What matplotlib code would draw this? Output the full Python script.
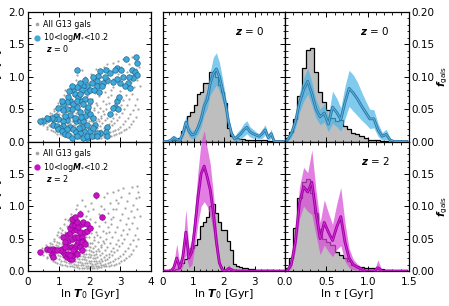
import numpy as np
import matplotlib
matplotlib.use('Agg')
import matplotlib.pyplot as plt
from matplotlib.ticker import MultipleLocator
from matplotlib.lines import Line2D

plt.rcParams['font.family'] = ['DejaVu Sans']
plt.rcParams['mathtext.fontset'] = 'dejavusans'

# ---------------- data ----------------
T0_edges = np.linspace(0, 4, 41)
tau_edges = np.linspace(0, 1.5, 31)

gray_T0_z0 = [0, 0, 0, 0.002, 0.003, 0.006, 0.016, 0.022, 0.04, 0.046, 0.056, 0.074, 0.077, 0.09, 0.09,
              0.107, 0.107, 0.1, 0.088, 0.077, 0.06, 0.021, 0.008, 0.006, 0.005, 0.004, 0.004, 0.003,
              0.003, 0.003, 0.002, 0.002, 0.002, 0.002, 0.001, 0.001, 0, 0, 0, 0]
blue_T0_z0 = [0, 0, 0.002, 0.006, 0.003, 0.002, 0.012, 0.03, 0.016, 0.01, 0.012, 0.022, 0.035, 0.055,
              0.065, 0.09, 0.105, 0.112, 0.1, 0.08, 0.058, 0.03, 0.012, 0.004, 0.008, 0.012, 0.018,
              0.022, 0.015, 0.012, 0.01, 0.008, 0.012, 0.018, 0.006, 0.012, 0, 0, 0, 0]
blue_T0_z0_err = [0, 0, 0.002, 0.004, 0.003, 0.002, 0.006, 0.01, 0.008, 0.006, 0.007, 0.01, 0.012, 0.014,
                  0.014, 0.018, 0.025, 0.025, 0.022, 0.018, 0.012, 0.008, 0.005, 0.004, 0.007, 0.008,
                  0.01, 0.01, 0.008, 0.007, 0.005, 0.004, 0.007, 0.008, 0.005, 0.007, 0, 0, 0, 0]

gray_tau_z0 = [0.005, 0.014, 0.035, 0.07, 0.114, 0.142, 0.144, 0.108, 0.077, 0.061, 0.048, 0.037, 0.032,
               0.033, 0.024, 0.02, 0.013, 0.011, 0.008, 0.005, 0.003, 0.002, 0.002, 0.001, 0.001,
               0, 0, 0, 0, 0]
blue_tau_z0 = [0.002, 0.012, 0.03, 0.06, 0.08, 0.093, 0.074, 0.05, 0.038, 0.044, 0.027, 0.053, 0.045,
               0.034, 0.06, 0.082, 0.075, 0.066, 0.055, 0.045, 0.035, 0.035, 0.018, 0.008, 0.011, 0.002,
               0, 0, 0, 0]
blue_tau_z0_err = [0.002, 0.006, 0.01, 0.015, 0.018, 0.02, 0.018, 0.014, 0.012, 0.014, 0.012, 0.025,
                   0.022, 0.018, 0.025, 0.028, 0.028, 0.026, 0.022, 0.018, 0.015, 0.014, 0.01, 0.006,
                   0.008, 0.002, 0, 0, 0, 0]

gray_T0_z2 = [0, 0, 0, 0.001, 0.003, 0.008, 0.012, 0.018, 0.026, 0.036, 0.04, 0.05, 0.069, 0.075, 0.084,
              0.1, 0.103, 0.09, 0.076, 0.063, 0.063, 0.047, 0.032, 0.011, 0.007, 0.006, 0.005, 0.004,
              0.003, 0.003, 0.002, 0.002, 0.002, 0.002, 0.001, 0.001, 0, 0, 0, 0]
mag_T0_z2 = [0, 0, 0, 0.005, 0.02, 0.005, 0.022, 0.06, 0.02, 0.03, 0.07, 0.115, 0.15, 0.162, 0.145,
             0.125, 0.09, 0.045, 0.012, 0.002, 0, 0.004, 0.002, 0, 0, 0, 0, 0, 0, 0, 0, 0, 0, 0, 0,
             0, 0, 0, 0, 0]
mag_T0_z2_err = [0, 0, 0, 0.005, 0.022, 0.006, 0.015, 0.035, 0.015, 0.02, 0.03, 0.04, 0.05, 0.055,
                 0.045, 0.04, 0.03, 0.02, 0.008, 0.002, 0, 0.006, 0.002, 0, 0, 0, 0, 0, 0, 0, 0, 0,
                 0, 0, 0, 0, 0, 0, 0, 0]

gray_tau_z2 = [0.005, 0.02, 0.066, 0.113, 0.138, 0.142, 0.12, 0.09, 0.065, 0.05, 0.045, 0.04, 0.03,
               0.025, 0.02, 0.015, 0.01, 0.008, 0.006, 0.005, 0.004, 0.005, 0.004, 0.003, 0.002,
               0.001, 0, 0, 0, 0]
mag_tau_z2 = [0, 0.01, 0.045, 0.105, 0.13, 0.122, 0.137, 0.09, 0.05, 0.075, 0.06, 0.047, 0.068, 0.084,
              0.045, 0.02, 0.01, 0.006, 0.003, 0, 0, 0, 0.005, 0, 0, 0, 0, 0, 0, 0]
mag_tau_z2_err = [0, 0.006, 0.015, 0.025, 0.03, 0.03, 0.05, 0.035, 0.025, 0.035, 0.03, 0.025, 0.035,
                  0.045, 0.03, 0.015, 0.008, 0.005, 0.003, 0, 0, 0, 0.012, 0, 0, 0, 0, 0, 0, 0]

# scatter: (ln T0, ln tau)
gray_pts = [
    (0.36, 0.30), (0.40, 0.27), (0.44, 0.33), (0.49, 0.25), (0.53, 0.31), (0.47, 0.36),
    (0.61, 0.22), (0.58, 0.29), (0.54, 0.35), (0.60, 0.40), (0.63, 0.20), (0.68, 0.26), (0.65, 0.33),
    (0.70, 0.39), (0.74, 0.18), (0.71, 0.24), (0.77, 0.30), (0.75, 0.37), (0.72, 0.44),
    (0.80, 0.16), (0.85, 0.22), (0.81, 0.28), (0.86, 0.35), (0.78, 0.42), (0.83, 0.50),
    (0.87, 0.14), (0.92, 0.20), (0.89, 0.27), (0.94, 0.33), (0.90, 0.40), (0.86, 0.47), (0.93, 0.55),
    (0.95, 0.12), (1.00, 0.18), (0.97, 0.25), (1.02, 0.31), (0.98, 0.38), (0.94, 0.45), (1.01, 0.52),
    (0.99, 0.60), (1.04, 0.11), (1.08, 0.16), (1.05, 0.23), (1.10, 0.29), (1.06, 0.36), (1.02, 0.43),
    (1.09, 0.50), (1.07, 0.58), (1.04, 0.66), (1.11, 0.10), (1.16, 0.15), (1.13, 0.21), (1.18, 0.27),
    (1.14, 0.34), (1.10, 0.41), (1.17, 0.48), (1.15, 0.56), (1.12, 0.64), (1.18, 0.72),
    (1.19, 0.09), (1.24, 0.14), (1.21, 0.19), (1.26, 0.25), (1.22, 0.31), (1.18, 0.38), (1.25, 0.45),
    (1.23, 0.53), (1.20, 0.61), (1.26, 0.70), (1.21, 0.80), (1.27, 0.08), (1.32, 0.13), (1.29, 0.18),
    (1.34, 0.23), (1.30, 0.29), (1.26, 0.36), (1.33, 0.43), (1.31, 0.51), (1.28, 0.59), (1.34, 0.68),
    (1.29, 0.78), (1.35, 0.07), (1.40, 0.12), (1.37, 0.17), (1.42, 0.22), (1.38, 0.28), (1.34, 0.34),
    (1.41, 0.41), (1.39, 0.48), (1.36, 0.56), (1.42, 0.65), (1.37, 0.75), (1.40, 0.88),
    (1.43, 0.07), (1.48, 0.11), (1.45, 0.16), (1.50, 0.21), (1.46, 0.26), (1.42, 0.32), (1.49, 0.39),
    (1.47, 0.46), (1.44, 0.54), (1.50, 0.62), (1.45, 0.72), (1.48, 0.84), (1.51, 0.06), (1.56, 0.10),
    (1.53, 0.15), (1.58, 0.20), (1.54, 0.25), (1.50, 0.31), (1.57, 0.37), (1.55, 0.44), (1.52, 0.52),
    (1.58, 0.60), (1.53, 0.70), (1.56, 0.95), (1.59, 0.06), (1.64, 0.10), (1.61, 0.14), (1.66, 0.19),
    (1.62, 0.24), (1.58, 0.30), (1.65, 0.36), (1.63, 0.43), (1.60, 0.50), (1.66, 0.58), (1.61, 0.68),
    (1.64, 0.80), (1.60, 1.02), (1.67, 0.05), (1.72, 0.09), (1.69, 0.14), (1.74, 0.18), (1.70, 0.23),
    (1.66, 0.29), (1.73, 0.35), (1.71, 0.41), (1.68, 0.48), (1.74, 0.56), (1.69, 0.66), (1.72, 0.77),
    (1.68, 0.92), (1.75, 0.05), (1.80, 0.09), (1.77, 0.13), (1.82, 0.18), (1.78, 0.23), (1.74, 0.28),
    (1.81, 0.34), (1.79, 0.40), (1.76, 0.47), (1.82, 0.55), (1.77, 0.64), (1.80, 0.75), (1.76, 1.10),
    (1.83, 0.05), (1.88, 0.08), (1.85, 0.12), (1.90, 0.17), (1.86, 0.22), (1.82, 0.27), (1.89, 0.33),
    (1.87, 0.39), (1.84, 0.46), (1.90, 0.53), (1.85, 0.62), (1.88, 0.85), (1.84, 1.00),
    (1.91, 0.05), (1.96, 0.08), (1.93, 0.12), (1.98, 0.16), (1.94, 0.21), (1.90, 0.26), (1.97, 0.32),
    (1.95, 0.38), (1.92, 0.45), (1.98, 0.52), (1.93, 0.70), (1.96, 0.92), (1.99, 0.05), (2.04, 0.08),
    (2.01, 0.12), (2.06, 0.16), (2.02, 0.21), (1.98, 0.26), (2.05, 0.31), (2.03, 0.37), (2.00, 0.44),
    (2.06, 0.58), (2.01, 0.80), (2.04, 1.05), (2.07, 0.05), (2.12, 0.08), (2.09, 0.11), (2.14, 0.15),
    (2.10, 0.20), (2.06, 0.25), (2.13, 0.30), (2.11, 0.36), (2.08, 0.43), (2.14, 0.52), (2.09, 0.66),
    (2.12, 0.95), (2.15, 0.05), (2.20, 0.08), (2.17, 0.11), (2.22, 0.15), (2.18, 0.20), (2.14, 0.25),
    (2.21, 0.31), (2.19, 0.38), (2.16, 0.48), (2.22, 0.60), (2.17, 0.75), (2.20, 1.12),
    (2.23, 0.05), (2.28, 0.08), (2.25, 0.12), (2.30, 0.16), (2.26, 0.21), (2.22, 0.27), (2.29, 0.34),
    (2.27, 0.45), (2.24, 0.56), (2.30, 0.88), (2.31, 0.06), (2.36, 0.09), (2.33, 0.13), (2.38, 0.18),
    (2.34, 0.24), (2.30, 0.31), (2.37, 0.40), (2.35, 0.52), (2.32, 0.70), (2.38, 1.00),
    (2.39, 0.06), (2.44, 0.10), (2.41, 0.15), (2.46, 0.21), (2.42, 0.28), (2.38, 0.37), (2.45, 0.47),
    (2.43, 0.62), (2.40, 0.82), (2.46, 1.15), (2.47, 0.07), (2.52, 0.11), (2.49, 0.17), (2.54, 0.24),
    (2.50, 0.33), (2.46, 0.43), (2.53, 0.58), (2.51, 0.76), (2.48, 0.95), (2.55, 0.07), (2.60, 0.12),
    (2.57, 0.19), (2.62, 0.27), (2.58, 0.37), (2.54, 0.50), (2.61, 0.68), (2.59, 0.90), (2.56, 1.20),
    (2.63, 0.08), (2.68, 0.14), (2.65, 0.22), (2.70, 0.31), (2.66, 0.44), (2.62, 0.60), (2.69, 0.80),
    (2.67, 1.05), (2.71, 0.09), (2.76, 0.16), (2.73, 0.25), (2.78, 0.36), (2.74, 0.52), (2.70, 0.72),
    (2.77, 0.96), (2.75, 1.22), (2.79, 0.10), (2.84, 0.18), (2.81, 0.29), (2.86, 0.42), (2.82, 0.60),
    (2.78, 0.84), (2.85, 1.10), (2.87, 0.11), (2.92, 0.20), (2.89, 0.33), (2.94, 0.48), (2.90, 0.68),
    (2.86, 0.95), (2.93, 1.25), (2.95, 0.13), (3.00, 0.23), (2.97, 0.38), (3.02, 0.56), (2.98, 0.78),
    (2.94, 1.05), (3.03, 0.15), (3.08, 0.27), (3.05, 0.44), (3.10, 0.64), (3.06, 0.88), (3.02, 1.15),
    (3.11, 0.17), (3.16, 0.31), (3.13, 0.50), (3.18, 0.72), (3.14, 0.98), (3.10, 1.28),
    (3.19, 0.20), (3.24, 0.36), (3.21, 0.57), (3.26, 0.82), (3.22, 1.08), (3.27, 0.23), (3.32, 0.42),
    (3.29, 0.65), (3.34, 0.92), (3.30, 1.20), (3.35, 0.27), (3.40, 0.48), (3.37, 0.74), (3.42, 1.02),
    (3.38, 1.30), (3.43, 0.32), (3.48, 0.56), (3.45, 0.84), (3.50, 1.12), (3.51, 0.38), (3.56, 0.66),
    (3.53, 0.95), (3.58, 1.22), (3.54, 1.32), (3.59, 0.50), (3.64, 0.85), (3.61, 1.15),
]

blue_pts = [
    (3.51, 1.31), (3.19, 1.27), (2.91, 1.14), (2.83, 1.11), (3.01, 1.11), (2.54, 1.11), (2.67, 1.06),
    (2.34, 1.09), (3.53, 1.21), (3.37, 1.11), (3.48, 1.07), (3.53, 1.02), (3.43, 0.98), (3.30, 1.00),
    (3.10, 1.00), (3.26, 0.91), (3.15, 0.85), (2.99, 0.91), (2.88, 0.96), (2.78, 0.92), (2.56, 0.95),
    (2.45, 0.91), (2.50, 1.00), (2.29, 1.01), (2.25, 0.93), (2.12, 1.00), (2.07, 0.90), (2.23, 0.86),
    (2.40, 0.86), (1.85, 0.95), (1.93, 0.86), (1.80, 0.86), (1.69, 0.90), (1.60, 1.11), (1.75, 0.79),
    (1.47, 0.79), (1.58, 0.84), (1.42, 0.86), (1.33, 0.78), (1.53, 0.73), (1.64, 0.69), (1.91, 0.77),
    (2.02, 0.79), (2.15, 0.80), (2.32, 0.77), (3.32, 0.82), (2.88, 0.63), (2.97, 0.69), (2.83, 0.54),
    (2.78, 0.52), (2.94, 0.50), (2.67, 0.43), (2.58, 0.22), (2.54, 0.15), (2.56, 0.08), (2.34, 0.13),
    (2.25, 0.13), (2.02, 0.16), (1.93, 0.06), (1.82, 0.16), (1.75, 0.22), (1.56, 0.31), (1.69, 0.32),
    (1.85, 0.40), (1.91, 0.48), (1.96, 0.53), (2.02, 0.42), (2.12, 0.37), (2.18, 0.26), (2.12, 0.21),
    (1.69, 0.45), (1.60, 0.53), (1.37, 0.41), (1.26, 0.33), (1.15, 0.32), (1.15, 0.24), (1.37, 0.22),
    (1.26, 0.19), (1.47, 0.19), (1.56, 0.15), (1.69, 0.13), (1.37, 0.63), (1.47, 0.58), (1.42, 0.50),
    (1.26, 0.50), (1.20, 0.40), (1.13, 0.48), (0.99, 0.52), (0.91, 0.40), (0.99, 0.34), (0.86, 0.34),
    (0.77, 0.37), (0.66, 0.34), (0.61, 0.37), (0.50, 0.32), (0.39, 0.31), (0.82, 0.26), (0.93, 0.24),
    (1.04, 0.21), (0.99, 0.19), (1.09, 0.16), (1.20, 0.12), (1.31, 0.10), (1.42, 0.06), (1.58, 0.08),
    (1.78, 0.06), (1.93, 0.09), (2.07, 0.09), (2.23, 0.08), (1.91, 0.26), (1.80, 0.32), (1.72, 0.38),
    (1.67, 0.21), (1.53, 0.37), (1.58, 0.63), (1.75, 0.63), (1.69, 0.73), (1.85, 0.66), (1.80, 0.58),
    (2.02, 0.63), (1.31, 0.69), (1.26, 0.61), (1.15, 0.58), (1.09, 0.63),
]

mag_pts = [
    (0.39, 0.29), (0.61, 0.34), (0.72, 0.32), (0.77, 0.24), (0.82, 0.34), (0.88, 0.32), (0.82, 0.21),
    (1.09, 0.34), (1.15, 0.29), (1.20, 0.24), (1.26, 0.21), (1.31, 0.26), (1.37, 0.18), (1.42, 0.18),
    (1.47, 0.24), (1.53, 0.29), (1.31, 0.37), (1.42, 0.37), (1.53, 0.37), (1.58, 0.42), (1.64, 0.47),
    (1.69, 0.37), (1.75, 0.32), (1.31, 0.47), (1.42, 0.50), (1.53, 0.52), (1.64, 0.52), (1.75, 0.52),
    (1.80, 0.47), (1.26, 0.55), (1.37, 0.58), (1.47, 0.63), (1.58, 0.63), (1.69, 0.60), (1.85, 0.60),
    (1.91, 0.62), (1.37, 0.66), (1.42, 0.71), (1.53, 0.71), (1.64, 0.68), (1.75, 0.73), (1.47, 0.79),
    (1.58, 0.76), (1.42, 0.80), (1.53, 0.84), (1.69, 0.88), (1.80, 0.76), (1.91, 0.73), (2.02, 0.67),
    (1.75, 0.45), (1.85, 0.42), (1.15, 0.52), (1.20, 0.45), (1.04, 0.32), (0.93, 0.32), (2.21, 1.17),
    (2.40, 0.83), (1.47, 0.32), (1.37, 0.24), (1.58, 0.26), (1.20, 0.37),
]

# ---------------- styling ----------------
BLUE_F, BLUE_E = '#3ea9da', '#24668c'
BAND_B, LINE_B, INNER_B = '#4ab4e6', '#2a78a8', '#5fb2dc'
MAG_F, MAG_E = '#c414c4', '#9a009a'
BAND_M, LINE_M, INNER_M = '#d848d8', '#9c00a4', '#d22cd2'
GRAY_PT = '#a6a6a6'

fig = plt.figure(figsize=(4.49, 3.06), dpi=100)
W, H = 449.0, 306.0
xs = [(28, 123), (163, 122), (285, 124)]
rows = [(141.5, 129.5), (271.0, 129.5)]  # bottom pixel, height


def make_ax(col, row):
    x0, w = xs[col]
    yb, h = rows[row]
    return fig.add_axes([x0 / W, 1 - yb / H, w / W, h / H])


def style(ax):
    ax.tick_params(which='both', direction='in', top=True, right=True, labelsize=7.5)
    ax.tick_params(axis='x', which='both', pad=4.5)
    ax.tick_params(axis='y', which='both', pad=2)
    ax.tick_params(which='major', length=3.5, width=0.7)
    ax.tick_params(which='minor', length=1.8, width=0.6)
    for s in ax.spines.values():
        s.set_linewidth(0.9)


def centers(e):
    return 0.5 * (e[1:] + e[:-1])


def hist_panel(ax, edges, gray, med, err, band, line, inner, clip=True):
    ax.stairs(gray, edges, fill=True, color='#bebebe', lw=0, zorder=1)
    ax.stairs(gray, edges, color='k', lw=0.9, zorder=2)
    c = centers(edges)
    med = np.asarray(med)
    err = np.asarray(err)
    ax.fill_between(c, np.clip(med - err, 0, None), med + err, color=band, alpha=0.7,
                    lw=0, zorder=3, clip_on=clip)
    ax.plot(c, med, color=line, lw=2.0, zorder=4, solid_joinstyle='round')
    ax.plot(c, med, color=inner, lw=0.7, zorder=5)


zlab_big = {'fontsize': 7.5}

for row, (zlabel, pts, fcol, ecol, gT0, mT0, eT0, gtau, mtau, etau, band, line, inner) in enumerate([
        ('0', blue_pts, BLUE_F, BLUE_E, gray_T0_z0, blue_T0_z0, blue_T0_z0_err,
         gray_tau_z0, blue_tau_z0, blue_tau_z0_err, BAND_B, LINE_B, INNER_B),
        ('2', mag_pts, MAG_F, MAG_E, gray_T0_z2, mag_T0_z2, mag_T0_z2_err,
         gray_tau_z2, mag_tau_z2, mag_tau_z2_err, BAND_M, LINE_M, INNER_M)]):
    # scatter panel
    ax = make_ax(0, row)
    style(ax)
    gx, gy = zip(*gray_pts)
    ax.scatter(gx, gy, s=2.6, color=GRAY_PT, lw=0, zorder=1)
    px, py = zip(*pts)
    ax.scatter(px, py, s=16, facecolor=fcol, edgecolor=ecol, lw=0.5, zorder=2)
    ax.set_xlim(0, 4)
    ax.set_ylim(0, 2)
    ax.xaxis.set_major_locator(MultipleLocator(1))
    ax.xaxis.set_minor_locator(MultipleLocator(0.5))
    ax.yaxis.set_major_locator(MultipleLocator(0.5))
    ax.yaxis.set_minor_locator(MultipleLocator(0.1))
    if row == 0:
        ax.set_yticks([0, 0.5, 1.0, 1.5, 2.0], ['0.0', '0.5', '1.0', '1.5', '2.0'])
        ax.tick_params(labelbottom=False)
    else:
        ax.set_yticks([0, 0.5, 1.0, 1.5, 2.0], ['0.0', '0.5', '1.0', '1.5', ''])
        ax.set_xticks([0, 1, 2, 3, 4], ['0', '1', '2', '3', '4'])
        ax.set_xlabel(r'ln $\mathbfit{T}_0$ [Gyr]', fontsize=8, labelpad=0)
    ax.set_ylabel(r'ln $\tau$ [Gyr]', fontsize=8, labelpad=3)
    handles = [Line2D([], [], marker='o', ls='', color=GRAY_PT, ms=1.6),
               Line2D([], [], marker='o', ls='', mfc=fcol, mec=fcol, ms=3.5)]
    ax.legend(handles, ['All G13 gals', r'10<log$\mathbfit{M}_{*}$<10.2'], loc='upper left',
              bbox_to_anchor=(0.0, 0.985), frameon=False, fontsize=5.8, handlelength=0.8,
              handletextpad=0.35, labelspacing=0.35, borderaxespad=0.3)
    ax.text(0.148, 0.715, r'$\mathbfit{z}$ = ' + zlabel, transform=ax.transAxes, fontsize=5.8,
            va='center', ha='left')

    # T0 histogram
    ax = make_ax(1, row)
    style(ax)
    hist_panel(ax, T0_edges, gT0, mT0, eT0, band, line, inner, clip=(row == 0))
    ax.set_xlim(0, 4)
    ax.set_ylim(0, 0.2)
    ax.xaxis.set_major_locator(MultipleLocator(1))
    ax.xaxis.set_minor_locator(MultipleLocator(0.2))
    ax.yaxis.set_major_locator(MultipleLocator(0.05))
    ax.yaxis.set_minor_locator(MultipleLocator(0.01))
    ax.tick_params(labelleft=False)
    if row == 0:
        ax.tick_params(labelbottom=False)
    else:
        ax.set_xticks([0, 1, 2, 3, 4], ['0', '1', '2', '3', ''])
        ax.set_xlabel(r'ln $\mathbfit{T}_0$ [Gyr]', fontsize=8, labelpad=0)
    ax.text(0.71, 0.85, r'$\mathbfit{z}$ = ' + zlabel, transform=ax.transAxes,
            va='center', ha='center', **zlab_big)

    # tau histogram
    ax = make_ax(2, row)
    style(ax)
    hist_panel(ax, tau_edges, gtau, mtau, etau, band, line, inner)
    ax.set_xlim(0, 1.5)
    ax.set_ylim(0, 0.2)
    ax.xaxis.set_major_locator(MultipleLocator(0.5))
    ax.xaxis.set_minor_locator(MultipleLocator(0.1))
    ax.yaxis.set_minor_locator(MultipleLocator(0.01))
    ax.tick_params(labelleft=False, labelright=True)
    if row == 0:
        ax.set_yticks([0, 0.05, 0.1, 0.15, 0.2], ['0.00', '0.05', '0.10', '0.15', '0.20'])
        ax.tick_params(labelbottom=False)
    else:
        ax.set_yticks([0, 0.05, 0.1, 0.15, 0.2], ['0.00', '0.05', '0.10', '0.15', ''])
        ax.set_xticks([0, 0.5, 1.0, 1.5], ['0.0', '0.5', '1.0', '1.5'])
        ax.set_xlabel(r'ln $\tau$ [Gyr]', fontsize=8, labelpad=0)
    ax.yaxis.set_label_position('right')
    ax.set_ylabel(r'$\mathbfit{f}_{\rm gals}$', fontsize=7.5, labelpad=0.5)
    ax.text(0.726, 0.85, r'$\mathbfit{z}$ = ' + zlabel, transform=ax.transAxes,
            va='center', ha='center', **zlab_big)

fig.savefig('out.png', dpi=100)
